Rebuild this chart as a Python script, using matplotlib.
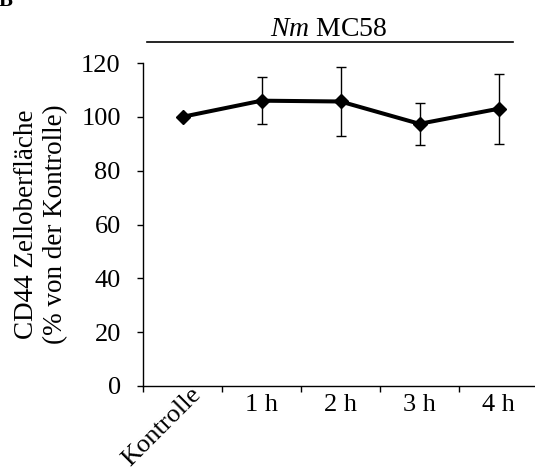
import numpy as np
import matplotlib
matplotlib.use("Agg")
import matplotlib.pyplot as plt
from matplotlib.lines import Line2D

# data
categories = ["Kontrolle", "1 h", "2 h", "3 h", "4 h"]
values = [100.0, 106.0, 105.7, 97.4, 103.0]
errors = [0.0, 8.8, 12.7, 7.7, 13.0]
yticks = [0, 20, 40, 60, 80, 100, 120]

plt.rcParams['font.family'] = ['Liberation Serif', 'DejaVu Serif']
plt.rcParams['mathtext.fontset'] = 'custom'
plt.rcParams['mathtext.rm'] = 'Liberation Serif'
plt.rcParams['mathtext.it'] = 'Liberation Serif:italic'

FS = 19

fig = plt.figure(figsize=(5.35, 4.75), dpi=100)
ax = fig.add_axes([143 / 535, 89 / 475, 395 / 535, 323 / 475])

x = np.arange(len(categories))
ax.errorbar(x[1:], values[1:], yerr=errors[1:], fmt='none', ecolor='black',
            elinewidth=1.0, capsize=3.5, capthick=1.0, zorder=2)
ax.plot(x, values, color='black', linewidth=2.9, marker='D', markersize=7.5,
        zorder=3, clip_on=False)

ax.set_xlim(-0.5, len(categories) - 0.5)
ax.set_ylim(0, 120)
ax.set_yticks(yticks)
ax.set_yticklabels([str(v) for v in yticks], fontsize=FS)

# tick marks sit on category boundaries, labels in the middle
ax.set_xticks(np.arange(len(categories) + 1) - 0.5)
ax.set_xticklabels([])
ax.tick_params(axis='x', direction='out', length=4, width=1)
ax.tick_params(axis='y', direction='out', length=4, width=1, pad=12)
for i, lab in enumerate(categories):
    if i == 0:
        ax.annotate(lab, xy=(i, 0), xycoords='data', xytext=(5, 2),
                    textcoords='offset points', rotation=45, ha='right', va='top',
                    fontsize=FS, rotation_mode='anchor')
    else:
        ax.annotate(lab, xy=(i, 0), xycoords='data', xytext=(0, -6),
                    textcoords='offset points', ha='center', va='top', fontsize=FS)

for side in ['top', 'right']:
    ax.spines[side].set_visible(False)
ax.spines['left'].set_linewidth(1)
ax.spines['bottom'].set_linewidth(1)

ax.set_ylabel("CD44 Zelloberfläche\n(% von der Kontrolle)", fontsize=19.5,
              linespacing=1.2)
ax.yaxis.set_label_coords(-0.19, 0.5)

# header bar and title
fig.add_artist(Line2D([147 / 535, 513 / 535], [1 - 42 / 475, 1 - 42 / 475],
                      color='black', linewidth=1.2))
fig.text(329 / 535, 1 - 30 / 475, r"$\it{Nm}$ MC58", ha='center', va='center',
         fontsize=20)
# panel letter, clipped at the top edge like in the source figure
fig.text(-1 / 535, 1 - 1 / 475, "B", ha='left', va='center', fontsize=15,
         fontweight='bold')

fig.savefig("out.png", dpi=100)
